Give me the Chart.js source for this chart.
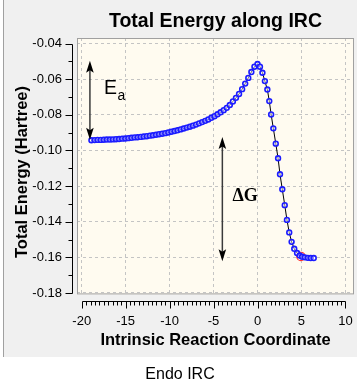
<!DOCTYPE html>
<html>
<head>
<meta charset="utf-8">
<script src="https://cdn.jsdelivr.net/npm/chart.js@4.4.1/dist/chart.umd.min.js"></script>
<style>
  html, body { margin: 0; padding: 0; background: #fff; }
  canvas { display: block; }
</style>
</head>
<body>
<canvas id="ircChart" width="362" height="389"></canvas>
<script>
// IRC coordinate and total energy (Hartree)
const irc = [
  -18.90, -18.55, -18.20, -17.85, -17.50, -17.15, -16.80, -16.45, -16.10, -15.75,
  -15.40, -15.05, -14.70, -14.35, -14.00, -13.65, -13.30, -12.95, -12.60, -12.25,
  -11.90, -11.55, -11.20, -10.85, -10.50, -10.15, -9.80, -9.45, -9.10, -8.75,
  -8.40, -8.05, -7.70, -7.35, -7.00, -6.65, -6.30, -5.95, -5.60, -5.25,
  -4.90, -4.55, -4.20, -3.85, -3.50, -3.15, -2.80, -2.45, -2.10, -1.75,
  -1.40, -1.05, -0.70, -0.35, 0.00,
  0.28, 0.56, 0.84, 1.12, 1.34, 1.55, 1.80, 2.08, 2.34, 2.56,
  2.82, 3.10, 3.35, 3.61, 3.88, 4.18, 4.50, 4.80, 5.08, 5.38,
  5.72, 6.05, 6.40
];
const energy = [
  -0.0943, -0.0942, -0.0941, -0.0941, -0.0940, -0.0939, -0.0939, -0.0938, -0.0937, -0.0936,
  -0.0934, -0.0933, -0.0931, -0.0929, -0.0927, -0.0926, -0.0924, -0.0922, -0.0920, -0.0917,
  -0.0915, -0.0912, -0.0909, -0.0906, -0.0903, -0.0899, -0.0895, -0.0891, -0.0887, -0.0882,
  -0.0877, -0.0872, -0.0867, -0.0861, -0.0855, -0.0848, -0.0841, -0.0834, -0.0826, -0.0817,
  -0.0808, -0.0797, -0.0786, -0.0774, -0.0761, -0.0745, -0.0725, -0.0705, -0.0683, -0.0656,
  -0.0625, -0.0593, -0.0560, -0.0530, -0.0515,
  -0.0530, -0.0564, -0.0611, -0.0658, -0.0723, -0.0798, -0.0876, -0.0962, -0.1044, -0.1134,
  -0.1218, -0.1307, -0.1390, -0.1460, -0.1513, -0.1552, -0.1576, -0.1590, -0.1597, -0.1600,
  -0.1603, -0.1604, -0.1604
];
// highlighted (current) point
const markX = [4.94];
const markY = [-0.1595];

const xTicks = [-20, -15, -10, -5, 0, 5, 10];
const yTicks = [-0.18, -0.16, -0.14, -0.12, -0.10, -0.08, -0.06, -0.04];

const FONT = '"Liberation Sans", Arial, sans-serif';

// annotation arrows (data units)
const eaArrow = { x: -19.07, top: -0.0497, bottom: -0.0940 };
const dgArrow = { x: -4.0, top: -0.0925, bottom: -0.1622 };

function drawArrow(ctx, x, y1, y2) {
  ctx.strokeStyle = '#3a3a3a';
  ctx.lineWidth = 1.5;
  ctx.beginPath();
  ctx.moveTo(x, y1 + 8);
  ctx.lineTo(x, y2 - 8);
  ctx.stroke();
  ctx.fillStyle = '#000';
  ctx.beginPath();
  ctx.moveTo(x, y1);
  ctx.lineTo(x - 3.8, y1 + 12);
  ctx.lineTo(x, y1 + 9.5);
  ctx.lineTo(x + 3.8, y1 + 12);
  ctx.closePath();
  ctx.fill();
  ctx.beginPath();
  ctx.moveTo(x, y2);
  ctx.lineTo(x - 3.8, y2 - 12);
  ctx.lineTo(x, y2 - 9.5);
  ctx.lineTo(x + 3.8, y2 - 12);
  ctx.closePath();
  ctx.fill();
}

const decor = {
  id: 'decor',
  beforeDraw(chart) {
    const { ctx, chartArea: a } = chart;
    ctx.save();
    ctx.fillStyle = '#fff';
    ctx.fillRect(0, 0, chart.width, chart.height);
    ctx.fillStyle = '#f0f0f0';
    ctx.fillRect(3, 0, 354, 357);
    ctx.fillStyle = '#a0a0a0';
    ctx.fillRect(3, 0, 1, 357);
    ctx.fillStyle = '#fffbf0';
    ctx.fillRect(a.left, a.top, a.right - a.left, a.bottom - a.top);
    ctx.restore();
  },
  afterDraw(chart) {
    const { ctx, chartArea: a } = chart;
    const xs = chart.scales.x, ys = chart.scales.y;
    ctx.save();

    // plot frame
    ctx.strokeStyle = '#a0a0a0';
    ctx.lineWidth = 1;
    ctx.strokeRect(a.left + 0.5, a.top + 0.5, a.right - a.left - 1, a.bottom - a.top - 1);

    // detached y axis with minor ticks
    ctx.strokeStyle = '#000';
    const ax = Math.round(a.left - 5) + 0.5;
    const yTop = ys.getPixelForValue(yTicks[yTicks.length - 1]);
    const yBot = ys.getPixelForValue(yTicks[0]);
    ctx.beginPath();
    ctx.moveTo(ax, Math.round(yTop) + 0.5);
    ctx.lineTo(ax, Math.round(yBot) + 0.5);
    yTicks.forEach((v, i) => {
      const py = Math.round(ys.getPixelForValue(v)) + 0.5;
      ctx.moveTo(ax - 7, py);
      ctx.lineTo(ax, py);
      if (i < yTicks.length - 1) {
        const pm = Math.round(ys.getPixelForValue(v + 0.01)) + 0.5;
        ctx.moveTo(ax - 4, pm);
        ctx.lineTo(ax, pm);
      }
    });
    ctx.stroke();

    // detached x axis with minor ticks every 0.5
    const ay = Math.round(a.bottom + 7) + 0.5;
    const x0 = xs.getPixelForValue(xTicks[0]);
    const x1 = xs.getPixelForValue(xTicks[xTicks.length - 1]);
    ctx.beginPath();
    ctx.moveTo(Math.round(x0) + 0.5, ay);
    ctx.lineTo(Math.round(x1) + 0.5, ay);
    for (let v = xTicks[0]; v <= xTicks[xTicks.length - 1] + 1e-9; v += 0.5) {
      const px = Math.round(xs.getPixelForValue(v)) + 0.5;
      const major = xTicks.includes(v);
      ctx.moveTo(px, ay);
      ctx.lineTo(px, ay + (major ? 7 : 4));
    }
    ctx.stroke();

    // arrows and labels
    drawArrow(ctx, xs.getPixelForValue(eaArrow.x), ys.getPixelForValue(eaArrow.top), ys.getPixelForValue(eaArrow.bottom));
    drawArrow(ctx, xs.getPixelForValue(dgArrow.x), ys.getPixelForValue(dgArrow.top), ys.getPixelForValue(dgArrow.bottom));

    ctx.fillStyle = '#000';
    ctx.textAlign = 'left';
    ctx.textBaseline = 'alphabetic';
    const ex = xs.getPixelForValue(-17.48), ey = ys.getPixelForValue(-0.0683);
    ctx.font = '19.5px ' + FONT;
    ctx.fillText('E', ex, ey);
    const ew = ctx.measureText('E').width;
    ctx.font = '14px ' + FONT;
    ctx.fillText('a', ex + ew + 0.5, ey + 6);
    ctx.font = 'bold 18px "Liberation Serif", "Times New Roman", serif';
    ctx.fillText('\u0394G', xs.getPixelForValue(-2.85), ys.getPixelForValue(-0.1284));

    // chart title, y title and caption
    ctx.textAlign = 'center';
    ctx.font = 'bold 19.5px ' + FONT;
    ctx.fillText('Total Energy along IRC', (a.left + a.right) / 2, 27.3);

    ctx.save();
    ctx.translate(26.7, 172);
    ctx.rotate(-Math.PI / 2);
    ctx.font = 'bold 16.5px ' + FONT;
    ctx.fillText('Total Energy (Hartree)', 0, 0);
    ctx.restore();

    ctx.font = '16px ' + FONT;
    ctx.fillText('Endo IRC', 180, 379);
    ctx.restore();
  }
};

const ctx = document.getElementById('ircChart').getContext('2d');
new Chart(ctx, {
  type: 'scatter',
  data: {
    datasets: [
      {
        label: 'Endo IRC',
        data: irc.map((x, i) => ({ x: x, y: energy[i] })),
        showLine: true,
        borderColor: '#000',
        borderWidth: 1,
        pointRadius: 2.4,
        pointHoverRadius: 2.4,
        pointBorderWidth: 1.6,
        pointBorderColor: '#1c1cff',
        pointBackgroundColor: 'rgba(255,255,255,0.45)'
      },
      {
        label: 'current',
        data: markX.map((x, i) => ({ x: x, y: markY[i] })),
        pointRadius: 4.2,
        pointHoverRadius: 4.2,
        pointBorderWidth: 1.2,
        pointBorderColor: '#ff3030',
        pointBackgroundColor: 'rgba(0,0,0,0)'
      }
    ]
  },
  options: {
    responsive: false,
    animation: false,
    layout: { padding: { top: 38, left: 4, right: 8, bottom: 38.6 } },
    plugins: {
      legend: { display: false },
      tooltip: { enabled: false }
    },
    scales: {
      x: {
        type: 'linear',
        min: -20.54,
        max: 10.98,
        afterBuildTicks: s => { s.ticks = xTicks.map(v => ({ value: v })); },
        afterFit: s => { s.height = 56; },
        ticks: {
          padding: 0,
          color: '#000',
          font: { size: 13, family: FONT },
          callback: v => String(v)
        },
        // invisible tick marks stand in for the label gap
        grid: { color: '#c4c4c4', drawTicks: true, tickLength: 19, tickColor: 'rgba(0,0,0,0)' },
        border: { display: false, dash: [3, 3] },
        title: {
          display: true,
          text: 'Intrinsic Reaction Coordinate',
          color: '#000',
          font: { size: 16.5, weight: 'bold', family: FONT },
          padding: { top: 1, bottom: 0 }
        }
      },
      y: {
        min: -0.1808,
        max: -0.0369,
        afterBuildTicks: s => { s.ticks = yTicks.map(v => ({ value: v })); },
        afterFit: s => { s.width = 73; },
        ticks: {
          padding: 0,
          color: '#000',
          font: { size: 13, family: FONT },
          callback: v => v.toFixed(2)
        },
        grid: { color: '#c4c4c4', drawTicks: true, tickLength: 15, tickColor: 'rgba(0,0,0,0)' },
        border: { display: false, dash: [3, 3] }
      }
    }
  },
  plugins: [decor]
});
</script>
</body>
</html>
